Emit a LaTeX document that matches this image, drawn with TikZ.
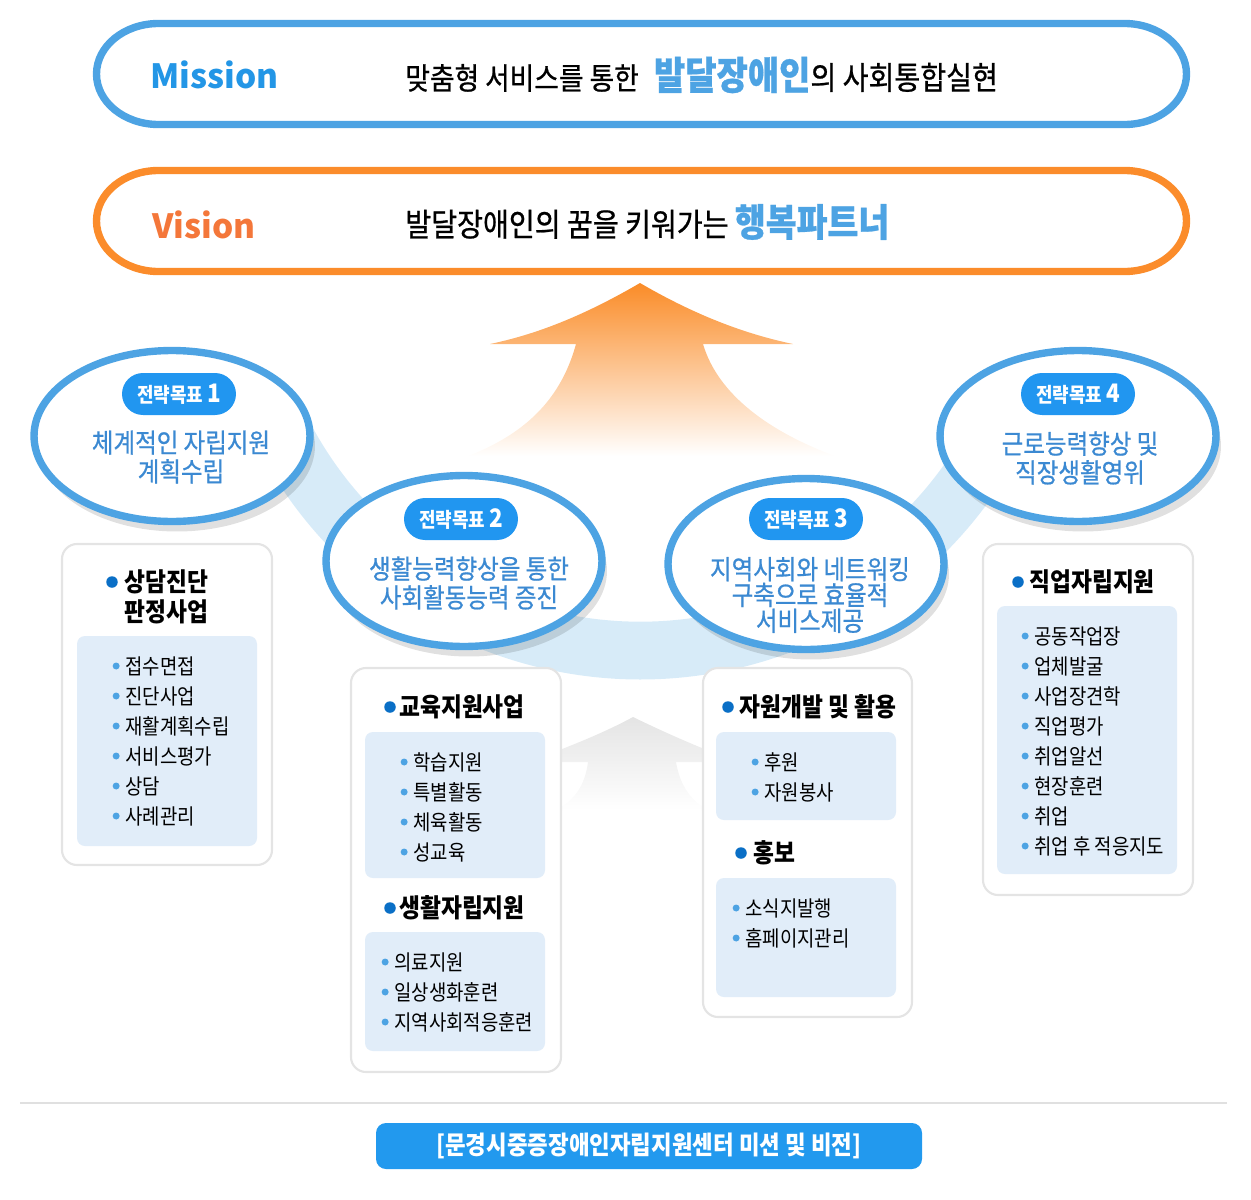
\documentclass[tikz,border=0pt]{standalone}
\usepackage{fontspec}
\setmainfont{Noto Sans CJK KR}[FakeStretch=0.88]
\newfontfamily\enfont{Noto Sans CJK KR}
\newfontfamily\krmed{Noto Sans CJK KR}[FakeStretch=0.88, FakeBold=0.7]
\usetikzlibrary{shapes.geometric,shadows}
\definecolor{mblue}{HTML}{2396E6}
\definecolor{lblue}{HTML}{4DA3E3}
\definecolor{badgeblue}{HTML}{2196F0}
\definecolor{etext}{HTML}{3B89D2}
\definecolor{oborder}{HTML}{FB8C2B}
\definecolor{vorange}{HTML}{F4773A}
\definecolor{orangeA}{HTML}{FA8C28}
\definecolor{grayA}{HTML}{E4E4E4}
\definecolor{dotdark}{HTML}{0A6FC6}
\definecolor{panelblue}{HTML}{E1EDF9}
\definecolor{bandblue}{HTML}{D7EBF8}
\definecolor{boxgray}{HTML}{E4E4E4}
\definecolor{rulegray}{HTML}{E0E0E0}
\definecolor{capblue}{HTML}{2299EE}
\begin{document}
\begin{tikzpicture}[x=0.02cm,y=-0.02cm,
  label distance=0.1cm,
  mvbox/.style={line width=4.2pt, fill=white},
  ell/.style={ellipse, draw=lblue, line width=4.2pt, fill=white, minimum width=5.52cm, minimum height=3.42cm, inner sep=0,
    drop shadow={shadow xshift=0.1cm, shadow yshift=-0.2cm, opacity=0.12, fill=black}},
  badge/.style={rectangle, rounded corners=0.42cm, fill=badgeblue, minimum width=2.28cm, minimum height=0.84cm, inner sep=0,
    text=white, font=\bfseries\fontsize{11.6pt}{13pt}\selectfont},
  etxt/.style={align=center, text=etext, inner sep=0, font=\krmed\fontsize{15.2pt}{16.4pt}\selectfont},
  box/.style={draw=boxgray, line width=1.2pt, fill=white, rounded corners=0.3cm},
  panel/.style={fill=panelblue, rounded corners=0.16cm},
  tdot/.style={circle, fill=dotdark, minimum size=0.23cm, inner sep=0},
  ttl/.style={anchor=west, inner sep=0, align=left, font=\bfseries\fontsize{14.7pt}{17pt}\selectfont},
  idot/.style={circle, fill=lblue, inner sep=0, minimum size=0.14cm},
  item/.style={anchor=west, inner sep=0, font=\fontsize{12.2pt}{14pt}\selectfont, label={[idot]left:{}}}
]
\useasboundingbox (0,0) rectangle (1251,1200);

% Mission box
\draw[mvbox, draw=lblue] (158.5,23.5) -- (1124.5,23.5) arc[start angle=-90, end angle=90, x radius=62, y radius=50.5]
  -- (158.5,124.5) arc[start angle=90, end angle=270, x radius=62, y radius=50.5] -- cycle;
\node[anchor=west, inner sep=0, text=mblue, font=\enfont\bfseries\fontsize{19pt}{24pt}\selectfont] (mis) at (150,75) {Mission};
\node[anchor=west, inner sep=0, font=\krmed\fontsize{17.3pt}{20pt}\selectfont] (mtxt) at (405,75)
  {맞춤형 서비스를 통한\hspace{0.5em}{\color{lblue}\bfseries\fontsize{22pt}{24pt}\selectfont 발달장애인}{\fontsize{18.2pt}{20pt}\selectfont 의 사회통합실현}};

% Vision box
\draw[mvbox, draw=oborder] (158.5,170.5) -- (1124.5,170.5) arc[start angle=-90, end angle=90, x radius=62, y radius=50.5]
  -- (158.5,271.5) arc[start angle=90, end angle=270, x radius=62, y radius=50.5] -- cycle;
\node[anchor=west, inner sep=0, text=vorange, font=\enfont\bfseries\fontsize{19pt}{24pt}\selectfont] (vis) at (152,225) {Vision};
\node[anchor=west, inner sep=0, font=\krmed\fontsize{18.2pt}{21pt}\selectfont] (vtxt) at (405,222)
  {발달장애인의 꿈을 키워가는 {\color{lblue}\bfseries\fontsize{21.7pt}{24pt}\selectfont 행복파트너}};

% blue band
\draw[draw=bandblue, line width=32.9pt] (640,248.5) ++(155:402) arc[start angle=155, end angle=25, radius=402];

% orange arrow
\shade[top color=orangeA, bottom color=white]
  (640,283) .. controls (700,318) and (750,335) .. (793,344) -- (703,344)
  .. controls (718,395) and (770,432) .. (835,456) -- (468,456)
  .. controls (530,432) and (562,395) .. (576,344) -- (490,344)
  .. controls (533,335) and (580,318) .. (640,283) -- cycle;

% gray arrow
\shade[top color=grayA, bottom color=white]
  (633,717) .. controls (670,735) and (705,750) .. (738,762) -- (676,762)
  .. controls (680,785) and (690,800) .. (708,810) -- (556,810)
  .. controls (575,800) and (585,785) .. (588,762) -- (528,762)
  .. controls (560,750) and (600,735) .. (633,717) -- cycle;

% ellipses
\node[ell] (e1) at (172,436) {};
\node[ell] (e2) at (464,561) {};
\node[ell] (e3) at (806,564) {};
\node[ell] (e4) at (1078,436) {};

\node[badge] (b1) at (179,394) {전략목표 {\fontsize{14.5pt}{14pt}\selectfont 1}};
\node[badge] (b2) at (461,519) {전략목표 {\fontsize{14.5pt}{14pt}\selectfont 2}};
\node[badge] (b3) at (806,519) {전략목표 {\fontsize{14.5pt}{14pt}\selectfont 3}};
\node[badge] (b4) at (1078,394) {전략목표 {\fontsize{14.5pt}{14pt}\selectfont 4}};

\node[etxt] (t1) at (181,457) {체계적인 자립지원\\계획수립};
\node[etxt] (t2) at (469,583) {생활능력향상을 통한\\사회활동능력 증진};
\node[etxt, font=\krmed\fontsize{15.2pt}{14.7pt}\selectfont] (t3) at (810,595) {지역사회와 네트워킹\\구축으로 효율적\\서비스제공};
\node[etxt] (t4) at (1080,458) {근로능력향상 및\\직장생활영위};

% boxes
\draw[box] (62,544) rectangle (272,865);
\draw[box] (351,668) rectangle (561,1072);
\draw[box] (703,668) rectangle (912,1017);
\draw[box] (983,544) rectangle (1193,895);

\fill[panel] (77,636) rectangle (257,846);
\fill[panel] (365,732) rectangle (545,878);
\fill[panel] (365,932) rectangle (545,1051);
\fill[panel] (716,732) rectangle (896,820);
\fill[panel] (716,878) rectangle (896,997);
\fill[panel] (997,606) rectangle (1177,874);

% titles
\node[tdot] (da) at (112,582) {};
\node[ttl] (ta) at (124,597) {상담진단\\판정사업};
\node[tdot] (db1) at (390,707) {};
\node[ttl] (tb1) at (399,707) {교육지원사업};
\node[tdot] (db2) at (390,908) {};
\node[ttl] (tb2) at (399,908) {생활자립지원};
\node[tdot] (dc1) at (728,707) {};
\node[ttl] (tc1) at (739,707) {자원개발 및 활용};
\node[tdot] (dc2) at (741,853) {};
\node[ttl] (tc2) at (753,853) {홍보};
\node[tdot] (dd) at (1018,582) {};
\node[ttl] (td) at (1029,582) {직업자립지원};

% items
\foreach \t [count=\i] in {접수면접,진단사업,재활계획수립,서비스평가,상담,사례관리}
  \node[item] (a\i) at (125,636+30*\i) {\t};
\foreach \t [count=\i] in {학습지원,특별활동,체육활동,성교육}
  \node[item] (b\i) at (413,732+30*\i) {\t};
\foreach \t [count=\i] in {의료지원,일상생화훈련,지역사회적응훈련}
  \node[item] (c\i) at (394,932+30*\i) {\t};
\foreach \t [count=\i] in {후원,자원봉사}
  \node[item] (g\i) at (764,732+30*\i) {\t};
\foreach \t [count=\i] in {소식지발행,홈페이지관리}
  \node[item] (h\i) at (745,878+30*\i) {\t};
\foreach \t [count=\i] in {공동작업장,업체발굴,사업장견학,직업평가,취업알선,현장훈련,취업,취업 후 적응지도}
  \node[item] (j\i) at (1034,606+30*\i) {\t};

% bottom
\coordinate (r1) at (20,1103);
\coordinate (r2) at (1227,1103);
\draw[draw=rulegray, line width=1pt] (r1) -- (r2);
\fill[capblue, rounded corners=0.2cm] (376,1123) rectangle (922,1169);
\node[text=white, inner sep=0, font=\bfseries\fontsize{14.5pt}{17pt}\selectfont] (cap) at (649,1146) {[문경시중증장애인자립지원센터 미션 및 비전]};
\end{tikzpicture}
\end{document}
